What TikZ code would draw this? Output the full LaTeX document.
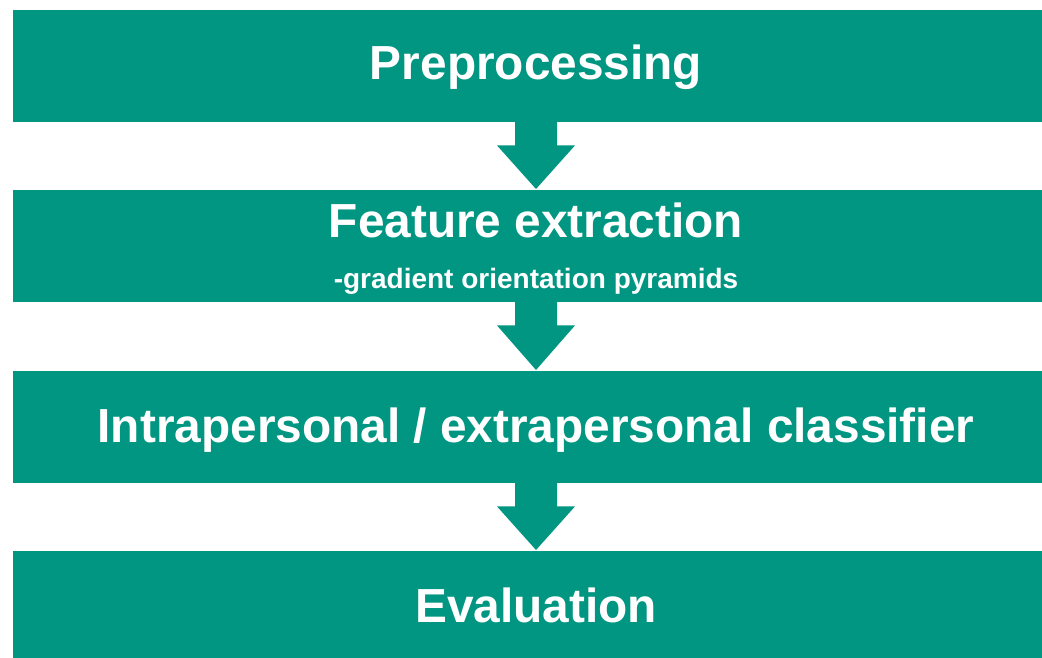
\documentclass[tikz,border=0pt]{standalone}
\usepackage{fontspec}
\setmainfont{Liberation Sans}
\usetikzlibrary{calc}
\definecolor{stage}{RGB}{0,150,130}
\tikzset{
  stagebox/.style={fill=stage, draw=none, inner sep=0pt, minimum width=1029pt, anchor=north west},
  stagetitle/.style={text=white, font=\fontsize{47.8}{50}\selectfont\bfseries, inner sep=0pt, anchor=base},
  stagenote/.style={text=white, font=\fontsize{28}{30}\selectfont\bfseries, inner sep=0pt, anchor=base},
  flowarrow/.style={fill=stage, draw=none}
}
\begin{document}
\begin{tikzpicture}[x=1pt,y=-1pt]
\useasboundingbox (0,0) rectangle (1042,658);
\fill[white] (0,0) rectangle (1042,658);
% stage boxes
\node[stagebox, minimum height=112pt] (b1) at (13,10) {};
\node[stagebox, minimum height=112pt] (b2) at (13,190) {};
\node[stagebox, minimum height=112pt] (b3) at (13,371) {};
\node[stagebox, minimum height=107pt] (b4) at (13,551) {};
% stage labels
\node[stagetitle] (t1) at (536,80) {Preprocessing};
\node[stagetitle] (t2) at (536,237) {Feature extraction};
\node[stagenote] (t2b) at (536,288) {-gradient orientation pyramids};
\node[stagetitle] (t3) at (536,442) {Intrapersonal / extrapersonal classifier};
\node[stagetitle] (t4) at (536,622) {Evaluation};
% block arrows: shaft overlaps the box above, head tip touches the box below
\foreach \up/\dn/\lbl in {b1/b2/t1, b2/b3/t2, b3/b4/t3}{
  \coordinate (top) at (\lbl |- \up.south);
  \coordinate (tip) at ($(\lbl |- \dn.north)+(0,-1)$);
  \fill[flowarrow] ($(top)+(-21,-2)$) -- ($(top)+(21,-2)$) -- ($(top)+(21,23)$) --
    ($(top)+(39,23)$) -- (tip) -- ($(top)+(-39,23)$) -- ($(top)+(-21,23)$) -- cycle;
}
\end{tikzpicture}
\end{document}
